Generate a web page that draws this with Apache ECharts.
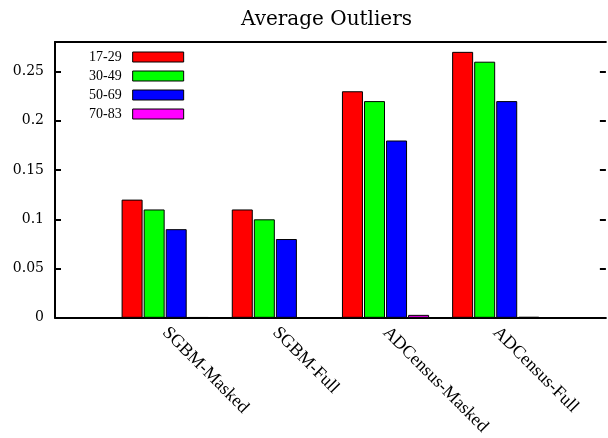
<!DOCTYPE html>
<html>
<head>
<meta charset="utf-8">
<script src="https://cdn.jsdelivr.net/npm/echarts@6/dist/echarts.min.js"></script>
<style>
  html, body { margin: 0; padding: 0; background: #fff; }
  #chart { width: 608px; height: 438px; }
</style>
</head>
<body>
<div id="chart"></div>
<script>
// categories and values
var categories = ['SGBM-Masked', 'SGBM-Full', 'ADCensus-Masked', 'ADCensus-Full'];
var ageGroups = ['17-29', '30-49', '50-69', '70-83'];
var age17_29 = [0.12, 0.11, 0.23, 0.27];
var age30_49 = [0.11, 0.10, 0.22, 0.26];
var age50_69 = [0.09, 0.08, 0.18, 0.22];
var age70_83 = [0.0007, 0, 0.003, 0.001];
var colors = ['#ff0000', '#00ff00', '#0000ff', '#ff00ff'];

// empty slot on each side, like the xrange [-1, 4] of the original
var axisData = [''].concat(categories, ['']);
function pad(arr) {
    return [null].concat(arr, [null]);
}

var seriesValues = [age17_29, age30_49, age50_69, age70_83];
var series = ageGroups.map(function (name, i) {
    return {
        name: name,
        type: 'bar',
        barWidth: 21,
        barGap: '5%',
        data: pad(seriesValues[i]),
        itemStyle: { color: colors[i], borderColor: '#000', borderWidth: 1 }
    };
});

var option = {
    animation: false,
    color: colors,
    title: {
        text: 'Average Outliers',
        left: 236,
        top: 5,
        textStyle: { fontFamily: 'DejaVu Serif', fontSize: 20, fontWeight: 'normal', color: '#000' }
    },
    legend: {
        orient: 'vertical',
        align: 'right',
        left: 89,
        top: 50,
        padding: 0,
        itemGap: 5,
        itemWidth: 51,
        itemHeight: 10,
        icon: 'rect',
        data: ageGroups,
        itemStyle: { borderColor: '#000', borderWidth: 1 },
        textStyle: { fontFamily: 'Liberation Serif', fontSize: 14, lineHeight: 14, color: '#000', padding: [0, 6, 0, 0] }
    },
    grid: {
        left: 55,
        right: 0,
        top: 42,
        bottom: 118
    },
    xAxis: [
        {
            type: 'category',
            data: axisData,
            boundaryGap: false,
            axisLine: { lineStyle: { color: '#000', width: 2 } },
            axisTick: { show: false },
            axisLabel: {
                interval: 0,
                rotate: -45,
                margin: 12,
                fontFamily: 'Liberation Serif',
                fontSize: 18,
                color: '#000'
            }
        },
        {
            // top border of the frame
            type: 'category',
            position: 'top',
            data: axisData,
            boundaryGap: false,
            axisLine: { onZero: false, lineStyle: { color: '#000', width: 2 } },
            axisTick: { show: false },
            axisLabel: { show: false }
        }
    ],
    yAxis: [
        {
            type: 'value',
            min: 0,
            max: 0.28,
            interval: 0.05,
            axisLine: { show: true, lineStyle: { color: '#000', width: 2 } },
            axisTick: { show: true, inside: true, length: 6, lineStyle: { color: '#000', width: 2 } },
            splitLine: { show: false },
            axisLabel: {
                showMaxLabel: false,
                margin: 11,
                fontFamily: 'DejaVu Serif',
                fontSize: 14,
                color: '#000'
            }
        },
        {
            // mirrored ticks on the right, border itself is off the canvas
            type: 'value',
            position: 'right',
            min: 0,
            max: 0.28,
            interval: 0.05,
            axisLine: { show: false },
            axisTick: { show: true, inside: true, length: 6, lineStyle: { color: '#000', width: 2 } },
            splitLine: { show: false },
            axisLabel: { show: false }
        }
    ],
    series: series
};

var myChart = echarts.init(document.getElementById('chart'));
myChart.setOption(option);
</script>
</body>
</html>
